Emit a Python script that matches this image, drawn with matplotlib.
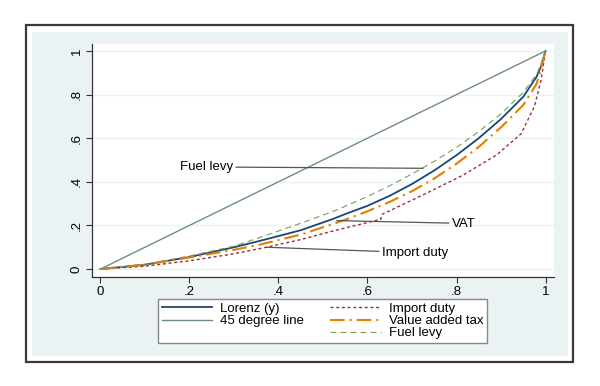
import numpy as np
import matplotlib
matplotlib.use("Agg")
import matplotlib.pyplot as plt
from matplotlib.patches import Rectangle
from matplotlib.lines import Line2D

plt.rcParams['font.family'] = ['Liberation Sans', 'DejaVu Sans']

# values
p_grid = [0, .1, .2, .3, .36, .45, .52, .55, .6, .65, .7, .75, .8, .85, .9, .95, .98, .99, 1]
lorenz_y = [0, .02, .055, .1, .13, .178, .228, .252, .29, .336, .39, .452, .522, .6, .688, .79, .882, .93, 1]
fuel_levy = [0, .022, .06, .105, .146, .21, .262, .288, .333, .382, .436, .494, .558, .63, .712, .81, .893, .94, 1]
vat = [0, .02, .053, .088, .113, .158, .205, .226, .265, .308, .357, .415, .483, .56, .65, .752, .85, .92, 1]

p_import = [0, .1, .2, .3, .373, .45, .516, .561, .63, .632, .7, .74, .815, .89, .945, .975, .99, 1]
import_duty = [0, .013, .038, .07, .1, .135, .171, .194, .228, .25, .316, .355, .431, .523, .62, .745, .867, 1]

ticks = [0, .2, .4, .6, .8, 1]
tick_labels = ["0", ".2", ".4", ".6", ".8", "1"]

navy = "#1a476f"
teal = "#6e8e84"
maroon = "#90353b"
orange = "#e37e00"
green = "#7f9a60"

fig = plt.figure(figsize=(6, 3.86), dpi=100)
fig.patch.set_facecolor("white")

# stata style graph region
fig.add_artist(Rectangle((0.0538, 0.0785), 0.8928, 0.8378, transform=fig.transFigure,
                         facecolor="#eaf2f3", edgecolor="none", zorder=-2))
fig.add_artist(Rectangle((0.0433, 0.063), 0.9117, 0.8723, transform=fig.transFigure,
                         facecolor="none", edgecolor="#3a3a3a", lw=1.6, zorder=-1))

ax = fig.add_axes([0.1533, 0.2832, 0.77, 0.6029])
ax.set_facecolor("white")

l1, = ax.plot(p_grid, lorenz_y, color=navy, lw=1.3, label="Lorenz (y)")
l2, = ax.plot([0, 1], [0, 1], color=teal, lw=1.0, label="45 degree line")
l3, = ax.plot(p_import, import_duty, color=maroon, lw=1.0, dashes=(2.2, 1.9), label="Import duty")
l4, = ax.plot(p_grid, vat, color=orange, lw=1.5, dashes=(7, 2.4, 1, 2.4), label="Value added tax")
l5, = ax.plot(p_grid, fuel_levy, color=green, lw=0.8, dashes=(5.4, 3.6), label="Fuel levy")

ax.set_xlim(-0.019, 1.019)
ax.set_ylim(-0.035, 1.032)
ax.set_xticks(ticks)
ax.set_xticklabels(tick_labels)
ax.set_yticks(ticks)
ax.set_yticklabels(tick_labels, rotation=90, va="center")
ax.tick_params(length=4, width=0.8, color="#333333", labelsize=9.5, pad=2.5)
ax.grid(axis="y", color="#eaf2f3", lw=1.0)
ax.set_axisbelow(True)
for s in ["top", "right"]:
    ax.spines[s].set_visible(False)
for s in ["left", "bottom"]:
    ax.spines[s].set_color("#333333")
    ax.spines[s].set_linewidth(0.9)

lead = dict(arrowstyle="-", color="#555555", lw=0.9, shrinkA=0, shrinkB=0)
ax.annotate("Fuel levy", xy=(0.725, 0.462), xytext=(0.179, 0.468), fontsize=9.5,
            va="center", ha="left", arrowprops=lead)
ax.annotate("VAT", xy=(0.531, 0.222), xytext=(0.789, 0.205), fontsize=9.5,
            va="center", ha="left", arrowprops=dict(lead, relpos=(0, 0.6)))
ax.annotate("Import duty", xy=(0.373, 0.1), xytext=(0.632, 0.075), fontsize=9.5,
            va="center", ha="left", arrowprops=lead)

blank = Line2D([], [], color="none")
leg = ax.legend([l1, l2, blank, l3, l4, l5],
                ["Lorenz (y)", "45 degree line", "", "Import duty", "Value added tax", "Fuel levy"],
                ncol=2, loc="center", bbox_to_anchor=(0.2567, 0.1126, 0.5617, 0.1114),
                bbox_transform=fig.transFigure, fontsize=9.5, frameon=True, fancybox=False,
                edgecolor="#888888", framealpha=1, handlelength=3.8, handletextpad=0.6,
                columnspacing=2.0, labelspacing=0.0, borderpad=0.3, borderaxespad=0)
leg.get_frame().set_linewidth(1.0)

fig.savefig("out.png", dpi=100, facecolor="white")
